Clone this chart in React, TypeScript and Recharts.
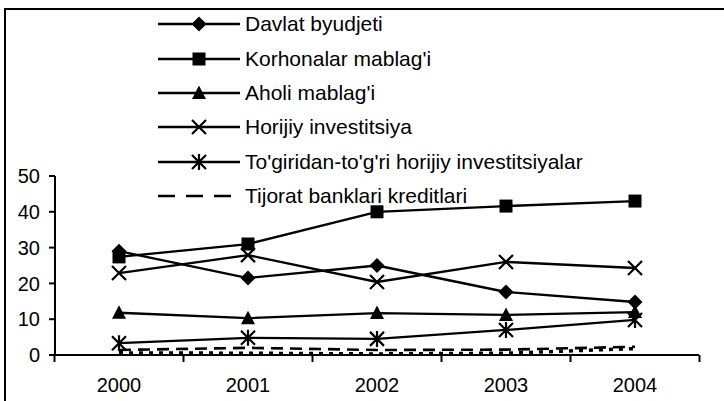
import { Line, LineChart, XAxis, YAxis } from 'recharts'

const years = ['2000', '2001', '2002', '2003', '2004']
const davlat = [29, 21.5, 25, 17.6, 14.8]
const korhonalar = [27.4, 31, 40, 41.6, 43]
const aholi = [11.8, 10.3, 11.7, 11.2, 12]
const horijiy = [22.9, 27.9, 20.4, 26, 24.3]
const togridan = [3.3, 4.8, 4.5, 7, 9.8]
const tijorat = [1.4, 2, 1.4, 1.5, 2.3]
const boshqa = [0.6, 0.5, 0.3, 0.5, 1.8]
const yTicks = [0, 10, 20, 30, 40, 50]

const data = years.map((year, i) => ({
  year,
  davlat: davlat[i],
  korhonalar: korhonalar[i],
  aholi: aholi[i],
  horijiy: horijiy[i],
  togridan: togridan[i],
  tijorat: tijorat[i],
  boshqa: boshqa[i],
}))

const font = '"Liberation Sans", Arial, sans-serif'
const xPad = 64

type MarkerKind = 'diamond' | 'square' | 'triangle' | 'cross' | 'star' | 'none'

function Marker({ kind, cx, cy }: { kind: MarkerKind; cx: number; cy: number }) {
  if (kind === 'diamond') {
    return <path d={`M${cx},${cy - 7.5}L${cx + 7.5},${cy}L${cx},${cy + 7.5}L${cx - 7.5},${cy}Z`} fill='#000' />
  }
  if (kind === 'square') {
    return <rect x={cx - 6.5} y={cy - 6.5} width={13} height={13} fill='#000' />
  }
  if (kind === 'triangle') {
    return <path d={`M${cx},${cy - 7.5}L${cx + 7},${cy + 6}L${cx - 7},${cy + 6}Z`} fill='#000' />
  }
  if (kind === 'cross') {
    return (
      <path
        d={`M${cx - 7},${cy - 7}L${cx + 7},${cy + 7}M${cx + 7},${cy - 7}L${cx - 7},${cy + 7}`}
        stroke='#000'
        strokeWidth={2.2}
        fill='none'
      />
    )
  }
  if (kind === 'star') {
    return (
      <path
        d={`M${cx - 7},${cy - 7}L${cx + 7},${cy + 7}M${cx + 7},${cy - 7}L${cx - 7},${cy + 7}M${cx},${cy - 8}L${cx},${cy + 8}`}
        stroke='#000'
        strokeWidth={2.2}
        fill='none'
      />
    )
  }
  return null
}

const series: { key: string; name: string; marker: MarkerKind; dash?: string; width: number; legend: boolean }[] = [
  { key: 'davlat', name: 'Davlat byudjeti', marker: 'diamond', width: 2.3, legend: true },
  { key: 'korhonalar', name: "Korhonalar mablag'i", marker: 'square', width: 2.3, legend: true },
  { key: 'aholi', name: "Aholi mablag'i", marker: 'triangle', width: 2.3, legend: true },
  { key: 'horijiy', name: 'Horijiy investitsiya', marker: 'cross', width: 2.3, legend: true },
  { key: 'togridan', name: "To'giridan-to'g'ri horijiy investitsiyalar", marker: 'star', width: 2.3, legend: true },
  { key: 'tijorat', name: 'Tijorat banklari kreditlari', marker: 'none', dash: '12 7', width: 2.6, legend: true },
  { key: 'boshqa', name: 'Boshqa', marker: 'none', dash: '4 6', width: 3.5, legend: false },
]

function LegendBox() {
  return (
    <div style={{ position: 'absolute', left: 158, top: 7, fontFamily: font, fontSize: 21, color: '#000' }}>
      {series
        .filter((s) => s.legend)
        .map((s) => (
          <div key={s.key} style={{ display: 'flex', alignItems: 'center', height: 34.4 }}>
            <svg width={84} height={20}>
              <line
                x1={0}
                x2={82}
                y1={10}
                y2={10}
                stroke='#000'
                strokeWidth={2.6}
                strokeDasharray={s.dash ? '17 11' : undefined}
              />
              <Marker kind={s.marker} cx={41} cy={10} />
            </svg>
            <span style={{ marginLeft: 3, whiteSpace: 'nowrap' }}>{s.name}</span>
          </div>
        ))}
    </div>
  )
}

// year label at the category centre, tick marks at the category boundaries
function YearTick(props: any) {
  const { x, y, payload, index, visibleTicksCount, width } = props
  const half = (width - 2 * xPad) / (visibleTicksCount - 1) / 2
  const axisY = y - 23
  const last = index === visibleTicksCount - 1
  return (
    <g>
      <line x1={x - half} x2={x - half} y1={axisY} y2={axisY + 7} stroke='#000' strokeWidth={2} />
      {last && <line x1={x + half} x2={x + half} y1={axisY} y2={axisY + 7} stroke='#000' strokeWidth={2} />}
      <text x={x} y={y} dy='0.71em' textAnchor='middle' fill='#000' fontSize={20} fontFamily={font}>
        {payload.value}
      </text>
    </g>
  )
}

export default function App() {
  return (
    <div style={{ position: 'relative', width: 724, height: 401, background: '#fff' }}>
      <style>{'body{margin:0}'}</style>
      <div
        style={{
          position: 'absolute',
          left: 4,
          top: 8,
          width: 720,
          height: 393,
          borderTop: '2px solid #000',
          borderLeft: '2px solid #000',
        }}
      />
      <LineChart
        width={724}
        height={401}
        data={data}
        margin={{ top: 176, right: 25, left: 5, bottom: 16 }}
        style={{ position: 'absolute', left: 0, top: 0 }}
      >
        <XAxis
          dataKey='year'
          height={30}
          padding={{ left: xPad, right: xPad }}
          tickLine={false}
          tickSize={6}
          tickMargin={17}
          axisLine={{ stroke: '#000', strokeWidth: 2 }}
          tick={<YearTick />}
        />
        <YAxis
          width={50}
          domain={[0, 50]}
          ticks={yTicks}
          tickSize={6}
          tickMargin={9}
          axisLine={{ stroke: '#000', strokeWidth: 2 }}
          tickLine={{ stroke: '#000', strokeWidth: 2 }}
          tick={{ fill: '#000', fontSize: 20, fontFamily: font }}
        />
        {series.map((s) => (
          <Line
            key={s.key}
            dataKey={s.key}
            name={s.name}
            type='linear'
            stroke='#000'
            strokeWidth={s.width}
            strokeDasharray={s.dash}
            isAnimationActive={false}
            dot={
              s.marker === 'none'
                ? false
                : (p: any) => <Marker key={`${s.key}-${p.index}`} kind={s.marker} cx={p.cx} cy={p.cy} />
            }
            activeDot={false}
          />
        ))}
      </LineChart>
      <LegendBox />
    </div>
  )
}
